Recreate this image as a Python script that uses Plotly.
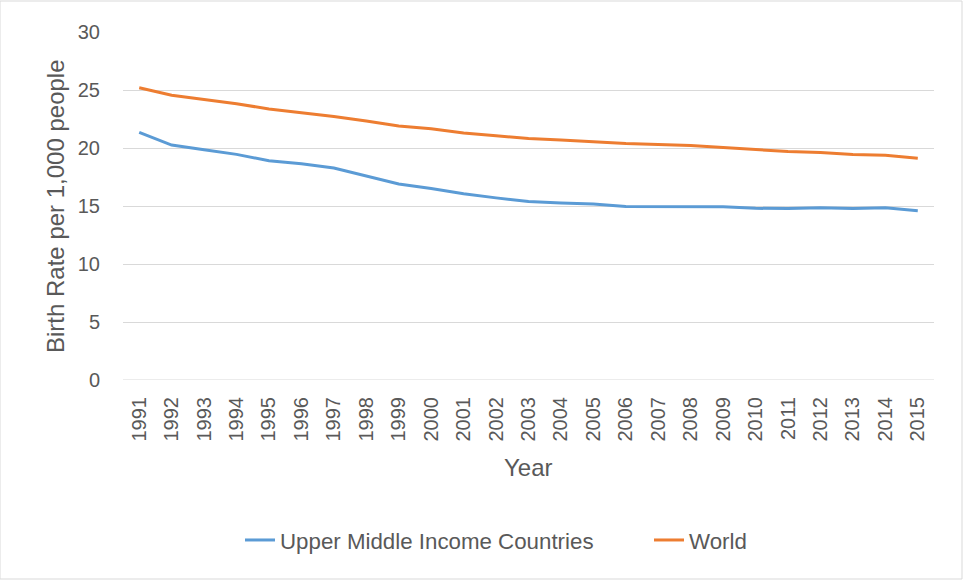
import plotly.graph_objects as go

years = [str(y) for y in range(1991, 2016)]

upper_middle_income = [21.35, 20.25, 19.85, 19.45, 18.9, 18.65, 18.28, 17.6, 16.9, 16.5,
                       16.05, 15.7, 15.38, 15.25, 15.18, 14.95, 14.95, 14.97, 14.93, 14.8,
                       14.78, 14.84, 14.78, 14.85, 14.6]
world = [25.2, 24.55, 24.18, 23.82, 23.36, 23.07, 22.72, 22.32, 21.9, 21.65,
         21.3, 21.05, 20.82, 20.68, 20.52, 20.38, 20.3, 20.22, 20.04, 19.86,
         19.7, 19.62, 19.44, 19.38, 19.12]

y_ticks = [0, 5, 10, 15, 20, 25, 30]

FONT = "Liberation Sans, Arial, sans-serif"
GREY_TEXT = "#595959"
GRID = "#d9d9d9"

fig = go.Figure()
fig.add_trace(go.Scatter(x=years, y=upper_middle_income, mode="lines",
                         name="Upper Middle Income Countries", legend="legend",
                         line=dict(color="#5b9bd5", width=3)))
fig.add_trace(go.Scatter(x=years, y=world, mode="lines", name="World",
                         legend="legend2",
                         line=dict(color="#ed7d31", width=3)))

legend_common = dict(orientation="h", xref="container", xanchor="left",
                     yref="container", y=0.069, yanchor="middle",
                     font=dict(size=22.3, color=GREY_TEXT))

fig.update_layout(
    width=963, height=580,
    margin=dict(l=123, r=29, t=32, b=200),
    paper_bgcolor="white", plot_bgcolor="white",
    font=dict(family=FONT, color=GREY_TEXT, size=18),
    showlegend=True,
    legend=dict(x=240 / 963, **legend_common),
    legend2=dict(x=649 / 963, **legend_common),
    xaxis=dict(type="category", showgrid=False, showline=False, zeroline=False,
               tickangle=-90, tickfont=dict(size=20, color=GREY_TEXT),
               ticks="", ticklabelstandoff=12, range=[-0.5, len(years) - 0.5]),
    yaxis=dict(range=[0, 30], tickvals=y_ticks, showgrid=True, gridcolor=GRID,
               gridwidth=1, zeroline=False, showline=False, ticks="",
               tickfont=dict(size=20, color=GREY_TEXT), ticklabelstandoff=22),
    shapes=[dict(type="rect", xref="paper", yref="paper",
                 x0=-123 / 811, x1=1 + 28 / 811, y0=-199 / 348, y1=1 + 31 / 348,
                 line=dict(color=GRID, width=1), fillcolor="rgba(0,0,0,0)",
                 layer="below"),
            dict(type="line", xref="paper", yref="y", x0=0, x1=1, y0=0, y1=0,
                 line=dict(color=GRID, width=1), layer="below")],
    annotations=[
        dict(text="Year", xref="paper", yref="paper", x=0.5, y=(380 - 468) / 348,
             xanchor="center", yanchor="middle", showarrow=False,
             font=dict(size=24, color=GREY_TEXT)),
        dict(text="Birth Rate per 1,000 people", xref="paper", yref="paper",
             x=(55 - 123) / 811, y=0.5, xanchor="center", yanchor="middle",
             textangle=-90, showarrow=False, font=dict(size=24, color=GREY_TEXT)),
    ],
)

fig.write_html("out.html")
